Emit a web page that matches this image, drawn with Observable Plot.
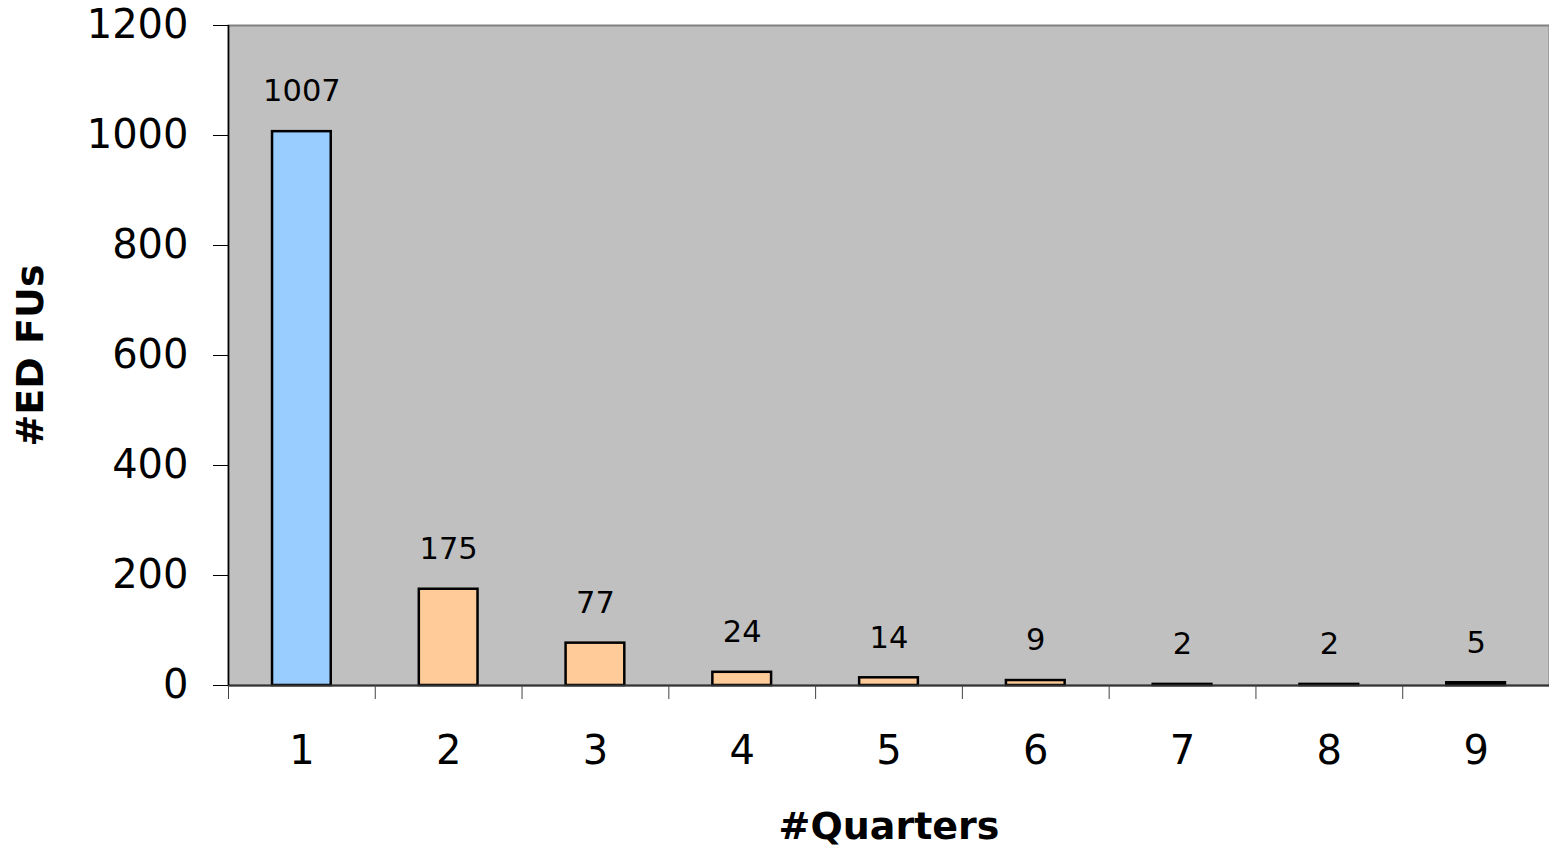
<!DOCTYPE html>
<html>
<head>
<meta charset="utf-8">
<script src="https://cdn.jsdelivr.net/npm/d3@7"></script>
<script src="https://cdn.jsdelivr.net/npm/@observablehq/plot@0.6"></script>
<style>
  html, body { margin: 0; padding: 0; background: #fff; }
  svg { display: block; }
</style>
</head>
<body>
<div id="chart"></div>
<script>
const quarters = [1, 2, 3, 4, 5, 6, 7, 8, 9];
const fus = [1007, 175, 77, 24, 14, 9, 2, 2, 5];
const barColors = ["#99CCFF", "#FFCC99", "#FFCC99", "#FFCC99", "#FFCC99", "#FFCC99", "#FFCC99", "#FFCC99", "#000000"];
const yTicks = [0, 200, 400, 600, 800, 1000, 1200];
const xBoundaries = [0.5, 1.5, 2.5, 3.5, 4.5, 5.5, 6.5, 7.5, 8.5];
const xLabel = "#Quarters";
const yLabel = "#ED FUs";

const data = quarters.map((q, i) => ({q, v: fus[i], color: barColors[i]}));
const halfWidth = 0.2;

const chart = Plot.plot({
  width: 1549,
  height: 846,
  marginLeft: 228,
  marginRight: 0,
  marginTop: 25,
  marginBottom: 161,
  style: {fontFamily: "'DejaVu Sans', sans-serif", background: "#fff", color: "#000"},
  x: {type: "linear", domain: [0.5, 9.5]},
  y: {domain: [0, 1200]},
  marks: [
    Plot.frame({fill: "#C0C0C0", stroke: "#808080", strokeWidth: 2}),
    Plot.rectY(data, {
      x1: d => d.q - halfWidth,
      x2: d => d.q + halfWidth,
      y1: 0,
      y2: "v",
      fill: "color",
      stroke: "#000",
      strokeWidth: 2.5
    }),
    Plot.text(data, {x: "q", y: "v", text: d => String(d.v), dy: -40, fontSize: 30.5, fill: "#000"}),
    Plot.ruleY([0], {stroke: "#333", strokeWidth: 2}),
    Plot.ruleX([0.5], {stroke: "#000", strokeWidth: 1.5}),
    Plot.axisY({ticks: yTicks, tickSize: 15, tickPadding: 25, fontSize: 40, label: null, tickFormat: d => String(d), stroke: "#000"}),
    Plot.axisX({ticks: xBoundaries, tickSize: 14, tickFormat: () => "", label: null, stroke: "#444"}),
    Plot.axisX({ticks: quarters, tickSize: 0, tickPadding: 50, fontSize: 40, label: null, tickFormat: d => String(d)}),
    Plot.text([xLabel], {frameAnchor: "bottom", dy: 153, fontSize: 38, fontWeight: "bold", fill: "#000"}),
    Plot.text([yLabel], {frameAnchor: "left", textAnchor: "middle", rotate: -90, dx: -198, fontSize: 38, fontWeight: "bold", fill: "#000"})
  ]
});
document.getElementById("chart").appendChild(chart);
</script>
</body>
</html>
